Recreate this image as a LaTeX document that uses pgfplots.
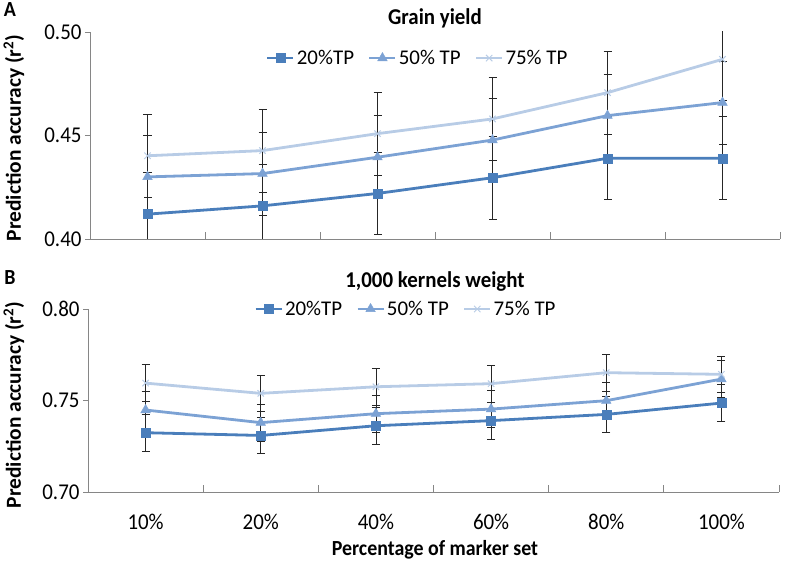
\documentclass[border=0pt]{standalone}
\usepackage{fontspec}
\setmainfont{Carlito}
\usepackage{pgfplots}
\pgfplotsset{compat=1.18}
\definecolor{cA}{RGB}{74,126,187}
\definecolor{cB}{RGB}{124,162,212}
\definecolor{cC}{RGB}{184,204,230}
\definecolor{axg}{RGB}{134,134,134}
\pgfplotsset{
  panel/.style={
    scale only axis,
    anchor=south west,
    axis lines*=left,
    axis line style={axg, line width=0.8bp},
    xmin=-0.5, xmax=5.5,
    xtick={0,1,2,3,4,5},
    minor xtick={0.5,1.5,2.5,3.5,4.5,5.5},
    tick align=outside,
    major tick length=5bp,
    minor tick length=7bp,
    major x tick style={draw=none},
    minor x tick style={axg, line width=0.8bp, yshift=7bp},
    y tick style={axg, line width=0.8bp},
    tick label style={font=\fontsize{21}{24}\selectfont, yscale=1.08},
    /pgf/number format/assume math mode=true,
    /pgf/number format/fixed,
    /pgf/number format/fixed zerofill,
    /pgf/number format/precision=2,
    legend columns=3,
    legend style={draw=none, fill=none, font=\fontsize{21}{24}\selectfont, anchor=center,
      /tikz/every even column/.append style={column sep=12bp}},
    legend image code/.code={\draw[mark repeat=2,mark phase=2] plot coordinates {(0bp,0bp)(13bp,0bp)(26bp,0bp)};},
    error bars/y dir=both,
    error bars/y explicit,
    error bars/error bar style={black!85, line width=0.8bp},
    error bars/error mark options={rotate=90, black!85, mark size=4bp, line width=0.8bp},
  },
  sA/.style={cA, line width=2.8bp, mark=square*, mark size=4.5bp, mark options={fill=cA, draw=cA, line width=0.5bp}},
  sB/.style={cB, line width=2.8bp, mark=triangle*, mark size=5.5bp, mark options={fill=cB, draw=cB, line width=0.5bp}},
  sC/.style={cC, line width=2.8bp, mark=x, mark size=4.5bp, mark options={draw=cC, line width=1bp}},
}
\begin{document}
\begin{tikzpicture}
\path[use as bounding box] (0,0) rectangle (787bp,563bp);
% Panel A
\begin{axis}[panel, at={(90bp,324bp)}, width=690bp, height=207bp,
  ymin=0.40, ymax=0.50, ytick={0.40,0.45,0.50}, xticklabels={},
  legend style={at={(axis description cs:0.475,0.874)}}]
\addplot[sA] coordinates {(0,0.412)+-(0,0.02) (1,0.416)+-(0,0.02) (2,0.422)+-(0,0.02) (3,0.4296)+-(0,0.02) (4,0.439)+-(0,0.02) (5,0.439)+-(0,0.02)};
\addplot[sB] coordinates {(0,0.430)+-(0,0.02) (1,0.4316)+-(0,0.02) (2,0.4395)+-(0,0.02) (3,0.4478)+-(0,0.02) (4,0.4596)+-(0,0.02) (5,0.4659)+-(0,0.02)};
\addplot[sC] coordinates {(0,0.4402)+-(0,0.02) (1,0.4427)+-(0,0.02) (2,0.4509)+-(0,0.02) (3,0.458)+-(0,0.02) (4,0.4707)+-(0,0.02) (5,0.4868)+-(0,0.02)};
\legend{20\%TP, 50\% TP, 75\% TP}
\end{axis}
% Panel B
\begin{axis}[panel, at={(88bp,71bp)}, width=691bp, height=183bp,
  ymin=0.70, ymax=0.80, ytick={0.70,0.75,0.80},
  xticklabels={10\%,20\%,40\%,60\%,80\%,100\%},
  xticklabel style={yshift=-12bp},
  legend style={at={(axis description cs:0.46,1.0)}}]
\addplot[sA] coordinates {(0,0.7324)+-(0,0.01) (1,0.7309)+-(0,0.01) (2,0.7362)+-(0,0.01) (3,0.7390)+-(0,0.01) (4,0.7424)+-(0,0.01) (5,0.7486)+-(0,0.01)};
\addplot[sB] coordinates {(0,0.7448)+-(0,0.01) (1,0.7379)+-(0,0.01) (2,0.7428)+-(0,0.01) (3,0.7453)+-(0,0.01) (4,0.7499)+-(0,0.01) (5,0.7617)+-(0,0.01)};
\addplot[sC] coordinates {(0,0.7595)+-(0,0.01) (1,0.7539)+-(0,0.01) (2,0.7575)+-(0,0.01) (3,0.7592)+-(0,0.01) (4,0.7652)+-(0,0.01) (5,0.7643)+-(0,0.01)};
\legend{20\%TP, 50\% TP, 75\% TP}
\end{axis}
% Texts
\node[font=\fontsize{20}{24}\selectfont\bfseries, yscale=1.08] at (10bp,553bp) {A};
\node[font=\fontsize{20}{24}\selectfont\bfseries, yscale=1.08] at (10bp,285bp) {B};
\node[font=\fontsize{21}{24}\selectfont\bfseries, yscale=1.08] at (435bp,545bp) {Grain yield};
\node[font=\fontsize{21}{24}\selectfont\bfseries, yscale=1.08] at (435bp,282bp) {1,000 kernels weight};
\node[font=\fontsize{21.5}{24}\selectfont\bfseries, rotate=90] at (14bp,425bp) {Prediction accuracy (r\textsuperscript{2})};
\node[font=\fontsize{21.5}{24}\selectfont\bfseries, rotate=90] at (14bp,158bp) {Prediction accuracy (r\textsuperscript{2})};
\node[font=\fontsize{20}{24}\selectfont\bfseries, yscale=1.08] at (435bp,13bp) {Percentage of marker set};
\end{tikzpicture}
\end{document}
